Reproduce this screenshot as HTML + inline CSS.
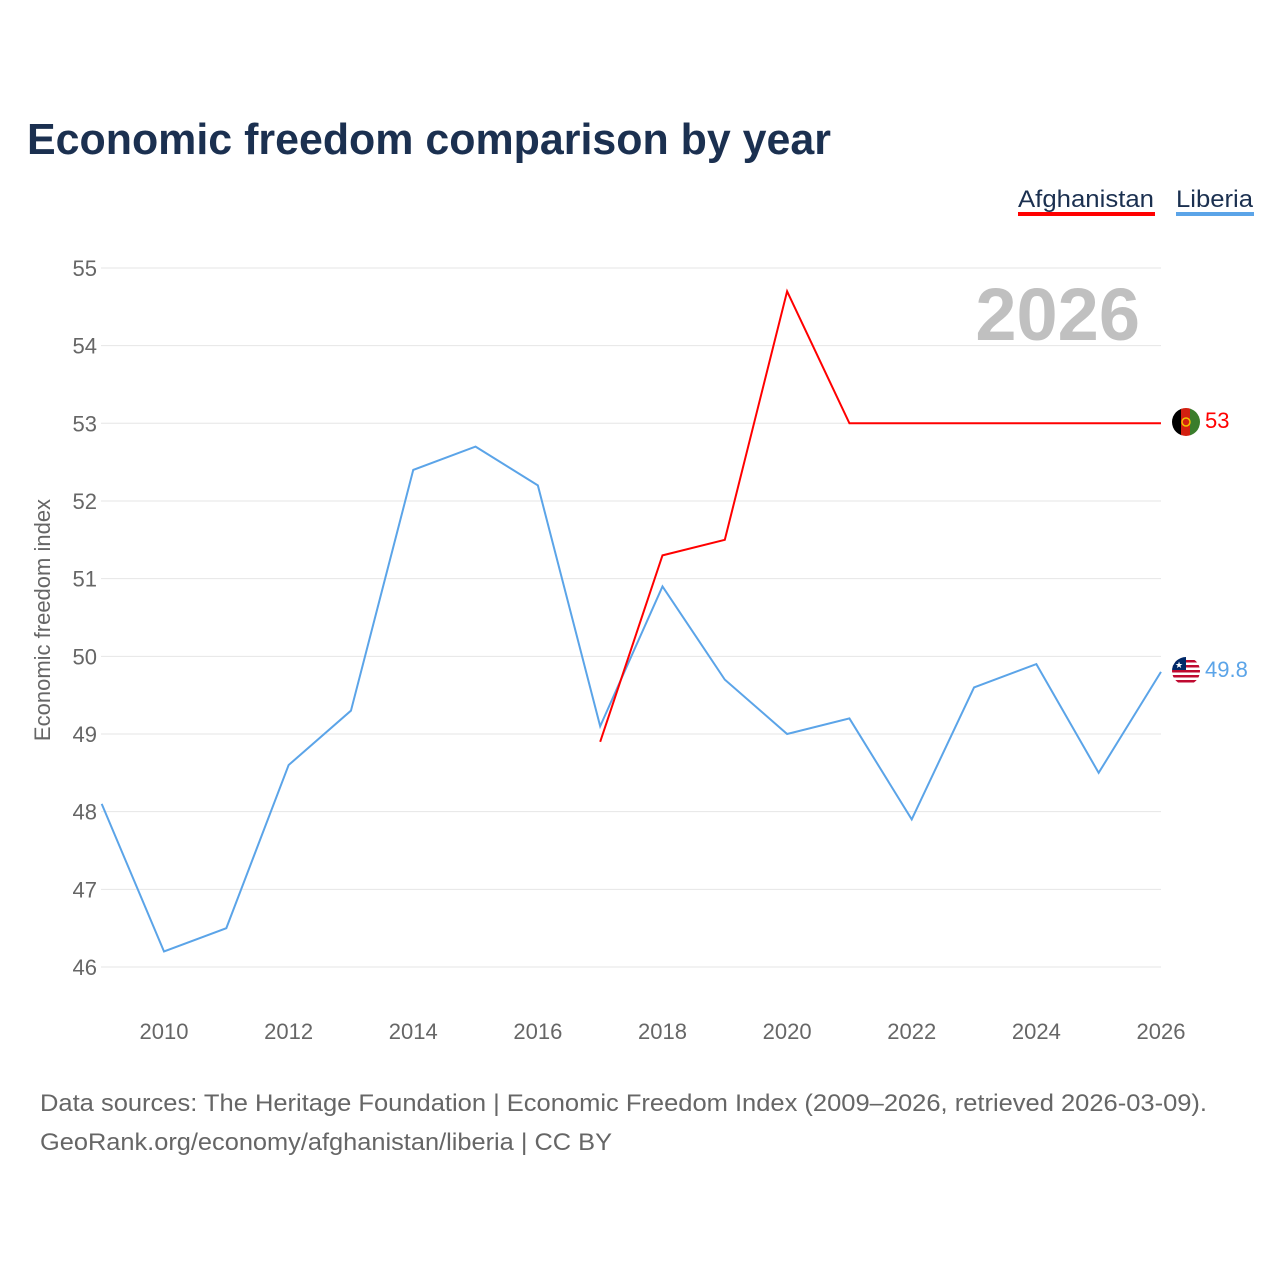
<!DOCTYPE html>
<html><head><meta charset="utf-8">
<style>
body{margin:0;background:#fff;width:1280px;height:1280px;overflow:hidden;font-family:"Liberation Sans",sans-serif;}
</style></head>
<body>
<svg width="1280" height="1280" viewBox="0 0 1280 1280">
<text x="27" y="154" font-size="44" font-weight="bold" fill="#1b3050" textLength="804" lengthAdjust="spacingAndGlyphs">Economic freedom comparison by year</text>
<g>
<text x="1018" y="207" font-size="24" fill="#1b3050" textLength="136" lengthAdjust="spacingAndGlyphs">Afghanistan</text>
<rect x="1018" y="212" width="137" height="4" fill="#ff0000"/>
<text x="1176" y="207" font-size="24" fill="#1b3050" textLength="77" lengthAdjust="spacingAndGlyphs">Liberia</text>
<rect x="1176" y="212" width="78" height="4" fill="#5ba4e8"/>
</g>
<g id="grid"></g>
<g id="yticks"></g>
<g id="xticks"></g>
<text x="1140" y="340" text-anchor="end" font-size="74" font-weight="bold" fill="#c0c0c0">2026</text>
<text transform="translate(50,620) rotate(-90)" text-anchor="middle" font-size="22" fill="#666">Economic freedom index</text>
<g id="series"></g>
<g>
<clipPath id="c1"><circle cx="1186" cy="422" r="14"/></clipPath>
<g clip-path="url(#c1)"><rect x="1172" y="408" width="10" height="28" fill="#000"/><rect x="1181" y="408" width="10" height="28" fill="#d32011"/><rect x="1190" y="408" width="10" height="28" fill="#3a7d2c"/></g>
<circle cx="1186" cy="422" r="4" fill="none" stroke="#f2c200" stroke-width="1.5"/>
</g>
<text x="1205" y="428" font-size="22" fill="#ff0000">53</text>
<g>
<clipPath id="c2"><circle cx="1186" cy="671" r="14"/></clipPath>
<g clip-path="url(#c2)"><rect x="1172" y="657" width="28" height="28" fill="#fff"/>
<rect x="1172" y="660" width="28" height="2.5" fill="#bf0a30"/><rect x="1172" y="665" width="28" height="2.5" fill="#bf0a30"/><rect x="1172" y="670" width="28" height="2.5" fill="#bf0a30"/><rect x="1172" y="675" width="28" height="2.5" fill="#bf0a30"/><rect x="1172" y="680" width="28" height="2.5" fill="#bf0a30"/>
<rect x="1172" y="657" width="14" height="13" fill="#002868"/><text x="1179" y="668" font-size="9" fill="#fff" text-anchor="middle">★</text></g>
</g>
<text x="1205" y="677" font-size="22" fill="#5ba4e8">49.8</text>
<text x="40" y="1111" font-size="24" fill="#666" textLength="1167" lengthAdjust="spacingAndGlyphs">Data sources: The Heritage Foundation | Economic Freedom Index (2009–2026, retrieved 2026-03-09).</text>
<text x="40" y="1150" font-size="24" fill="#666" textLength="572" lengthAdjust="spacingAndGlyphs">GeoRank.org/economy/afghanistan/liberia | CC BY</text>
</svg>
<script>
const years=[2009,2010,2011,2012,2013,2014,2015,2016,2017,2018,2019,2020,2021,2022,2023,2024,2025,2026];
const liberia=[48.1,46.2,46.5,48.6,49.3,52.4,52.7,52.2,49.1,50.9,49.7,49.0,49.2,47.9,49.6,49.9,48.5,49.8];
const afghanYears=[2017,2018,2019,2020,2021,2022,2023,2024,2025,2026];
const afghanistan=[48.9,51.3,51.5,54.7,53.0,53.0,53.0,53.0,53.0,53.0];
const yTicks=[46,47,48,49,50,51,52,53,54,55];
const xTicks=[2010,2012,2014,2016,2018,2020,2022,2024,2026];
const NS="http://www.w3.org/2000/svg";
const xs=y=>101.7+(y-2009)*62.31;
const ys=v=>967-(v-46)*77.67;
function mk(t,a,p){const e=document.createElementNS(NS,t);for(const k in a)e.setAttribute(k,a[k]);document.getElementById(p).appendChild(e);return e;}
yTicks.forEach(v=>{
 const l=mk('line',{x1:101,x2:1161,y1:ys(v),y2:ys(v),stroke:'#e6e6e6','stroke-width':1},'grid');
 
 
 const t=mk('text',{x:97,y:ys(v)+8,'text-anchor':'end','font-size':22,fill:'#666'},'yticks');
 t.textContent=v;
 
 
});
xTicks.forEach(y=>{
 const t=mk('text',{x:xs(y),y:1039,'text-anchor':'middle','font-size':22,fill:'#666'},'xticks');
 t.textContent=y;
 
 
});
const p1=mk('polyline',{points:years.map((y,i)=>xs(y)+','+ys(liberia[i])).join(' '),fill:'none',stroke:'#5ba4e8','stroke-width':2},'series');


const p2=mk('polyline',{points:afghanYears.map((y,i)=>xs(y)+','+ys(afghanistan[i])).join(' '),fill:'none',stroke:'#ff0000','stroke-width':2},'series');


</script>
</body></html>
